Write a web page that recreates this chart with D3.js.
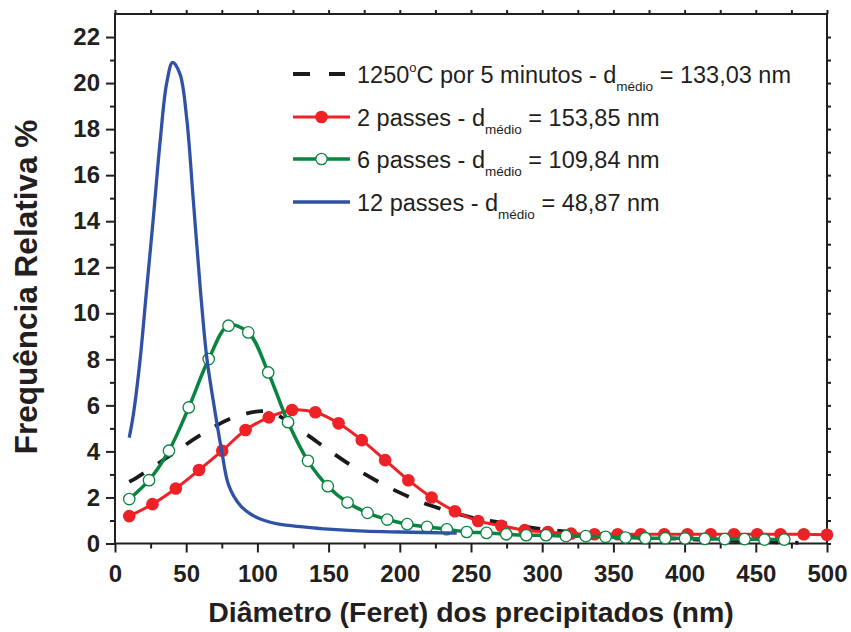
<!DOCTYPE html>
<html>
<head>
<meta charset="utf-8">
<script src="https://cdn.jsdelivr.net/npm/d3@7"></script>
<style>
  html, body { margin: 0; padding: 0; background: #fff; }
  svg { display: block; font-family: "Liberation Sans", Arial, sans-serif; }
</style>
</head>
<body>
<svg id="chart" width="851" height="632"></svg>
<script>
// Size distributions of precipitates (Feret diameter, nm) vs relative frequency (%)

// 1250 °C for 5 minutes (dashed black curve)
const heatX = [10, 14.5, 37.4, 60.9, 84.3, 108, 130.4, 152.6, 175.8, 199.2, 221.7, 250.5, 268, 291, 320, 350, 380, 410, 440, 480];
const heatY = [2.68, 2.83, 3.77, 4.74, 5.5, 5.72, 4.91, 3.94, 3.0, 2.23, 1.65, 1.13, 0.94, 0.7, 0.5, 0.35, 0.25, 0.17, 0.1, 0.03];

// 2 passes (red, filled circles)
const pass2X = [10, 26.3, 42.7, 59, 75.3, 91.7, 108, 124.3, 140.7, 157, 173.3, 189.7, 206, 222.3, 238.7, 255, 271.3, 287.7, 304, 320.3, 336.7, 353, 369.3, 385.7, 402, 418.3, 434.7, 451, 467.3, 483.7, 500];
const pass2Y = [1.19, 1.71, 2.39, 3.19, 4.03, 4.93, 5.48, 5.80, 5.70, 5.22, 4.49, 3.62, 2.75, 2.0, 1.40, 0.98, 0.77, 0.58, 0.50, 0.43, 0.40, 0.40, 0.40, 0.40, 0.40, 0.40, 0.40, 0.40, 0.40, 0.40, 0.38];

// 6 passes (green, open circles)
const pass6X = [10, 23.9, 37.9, 51.8, 65.8, 79.7, 93.6, 107.6, 121.5, 135.5, 149.4, 163.3, 177.3, 191.2, 205.2, 219.1, 233, 247, 260.9, 274.8, 288.8, 302.7, 316.7, 330.6, 344.5, 358.5, 372.4, 386.4, 400.3, 414.2, 428.2, 442.1, 456.1, 470];
const pass6Y = [1.93, 2.75, 4.03, 5.91, 8.01, 9.46, 9.17, 7.43, 5.27, 3.59, 2.49, 1.78, 1.33, 1.04, 0.84, 0.72, 0.62, 0.50, 0.46, 0.40, 0.36, 0.36, 0.32, 0.32, 0.29, 0.26, 0.23, 0.23, 0.22, 0.20, 0.19, 0.19, 0.17, 0.17];

// 12 passes (blue, plain line)
const pass12X = [10, 13, 17.6, 22, 27, 31.6, 36.3, 40.5, 45.6, 50.3, 55, 60, 64.4, 69, 74.9, 80, 88, 96, 105, 115, 132, 150, 175, 200, 240];
const pass12Y = [4.6, 5.65, 7.97, 10.9, 14.2, 17.4, 20.0, 20.9, 20.4, 18.5, 14.9, 11.0, 8.1, 6.2, 4.03, 2.5, 1.65, 1.25, 1.0, 0.84, 0.72, 0.62, 0.54, 0.5, 0.45];

// Legend entries
const legendLabels = [
  { pre: "1250", sup: "o", mid: "C por 5 minutos - d", sub: "médio", post: " = 133,03 nm" },
  { pre: "2 passes - d", sub: "médio", post: " = 153,85 nm" },
  { pre: "6 passes - d", sub: "médio", post: " = 109,84 nm" },
  { pre: "12 passes - d", sub: "médio", post: " = 48,87 nm" }
];

// Axis ticks
const xMajorTicks = [0, 50, 100, 150, 200, 250, 300, 350, 400, 450, 500];
const xMinorTicks = [25, 75, 125, 175, 225, 275, 325, 375, 425, 475];
const yMajorTicks = [0, 2, 4, 6, 8, 10, 12, 14, 16, 18, 20, 22];
const yMinorTicks = [1, 3, 5, 7, 9, 11, 13, 15, 17, 19, 21];

const C = { heat: "#1a1a1a", p2: "#ee2226", p6: "#0a8541", p12: "#2f52a4", axis: "#231f20" };

const svg = d3.select("#chart");
const plotL = 115, plotR = 827, plotT = 14, plotB = 543.5;

const x = d3.scaleLinear().domain([0, 500]).range([plotL, plotR]);
const y = d3.scaleLinear().domain([0, 23]).range([plotB, plotT]);

const line = d3.line().x(d => x(d[0])).y(d => y(d[1])).curve(d3.curveCatmullRom.alpha(0.5));
const zip = (a, b) => a.map((v, i) => [v, b[i]]);

// Axes
function styleAxis(g) {
  g.select(".domain").remove();
  g.selectAll(".tick line").attr("stroke", C.axis).attr("stroke-width", 2);
  g.selectAll(".tick text").attr("fill", "#231f20").attr("font-weight", "bold")
    .attr("font-size", 24).attr("font-family", "'Liberation Sans', Arial, sans-serif");
}

svg.append("g").attr("transform", `translate(0,${plotB})`)
  .call(d3.axisBottom(x).tickValues(xMajorTicks).tickSize(9).tickPadding(12).tickFormat(d3.format("d")))
  .call(styleAxis);
svg.append("g").attr("transform", `translate(0,${plotB})`)
  .call(d3.axisBottom(x).tickValues(xMinorTicks).tickSize(5).tickFormat(""))
  .call(styleAxis);
svg.append("g").attr("transform", `translate(${plotL},0)`)
  .call(d3.axisLeft(y).tickValues(yMajorTicks).tickSize(9).tickPadding(6).tickFormat(d3.format("d")))
  .call(styleAxis);
svg.append("g").attr("transform", `translate(${plotL},0)`)
  .call(d3.axisLeft(y).tickValues(yMinorTicks).tickSize(5).tickFormat(""))
  .call(styleAxis);
svg.append("g").attr("transform", `translate(0,${plotT})`)
  .call(d3.axisTop(x).tickValues(xMajorTicks.concat(xMinorTicks)).tickSize(4).tickFormat(""))
  .call(styleAxis);
svg.append("g").attr("transform", `translate(${plotR},0)`)
  .call(d3.axisRight(y).tickValues(yMajorTicks.concat(yMinorTicks)).tickSize(4).tickFormat(""))
  .call(styleAxis);

svg.append("rect").attr("x", plotL).attr("y", plotT).attr("width", plotR - plotL).attr("height", plotB - plotT)
  .attr("fill", "none").attr("stroke", C.axis).attr("stroke-width", 2);

// Series
const plot = svg.append("g");
plot.append("path").datum(zip(heatX, heatY)).attr("d", line)
  .attr("fill", "none").attr("stroke", C.heat).attr("stroke-width", 3.8).attr("stroke-dasharray", "17,17");

plot.append("path").datum(zip(pass2X, pass2Y)).attr("d", line)
  .attr("fill", "none").attr("stroke", C.p2).attr("stroke-width", 3);
plot.selectAll(".p2").data(zip(pass2X, pass2Y)).join("circle").attr("class", "p2")
  .attr("cx", d => x(d[0])).attr("cy", d => y(d[1])).attr("r", 6.3).attr("fill", C.p2);

plot.append("path").datum(zip(pass6X, pass6Y)).attr("d", line)
  .attr("fill", "none").attr("stroke", C.p6).attr("stroke-width", 3.5);
plot.selectAll(".p6").data(zip(pass6X, pass6Y)).join("circle").attr("class", "p6")
  .attr("cx", d => x(d[0])).attr("cy", d => y(d[1])).attr("r", 5.7)
  .attr("fill", "#fff").attr("stroke", C.p6).attr("stroke-width", 1.3);

plot.append("path").datum(zip(pass12X, pass12Y)).attr("d", line)
  .attr("fill", "none").attr("stroke", C.p12).attr("stroke-width", 3.3);

// Legend
const legendRows = [74, 117, 159, 202];
const lx0 = 293, lx1 = 350, tx = 357;
const lg = svg.append("g");
lg.append("line").attr("x1", lx0).attr("x2", lx1 - 5).attr("y1", legendRows[0]).attr("y2", legendRows[0])
  .attr("stroke", C.heat).attr("stroke-width", 3.8).attr("stroke-dasharray", "17,19");
lg.append("line").attr("x1", lx0).attr("x2", lx1).attr("y1", legendRows[1]).attr("y2", legendRows[1])
  .attr("stroke", C.p2).attr("stroke-width", 3);
lg.append("circle").attr("cx", (lx0 + lx1) / 2).attr("cy", legendRows[1]).attr("r", 6.3).attr("fill", C.p2);
lg.append("line").attr("x1", lx0).attr("x2", lx1).attr("y1", legendRows[2]).attr("y2", legendRows[2])
  .attr("stroke", C.p6).attr("stroke-width", 3.5);
lg.append("circle").attr("cx", (lx0 + lx1) / 2).attr("cy", legendRows[2]).attr("r", 5.7)
  .attr("fill", "#fff").attr("stroke", C.p6).attr("stroke-width", 1.3);
lg.append("line").attr("x1", lx0).attr("x2", lx1).attr("y1", legendRows[3]).attr("y2", legendRows[3])
  .attr("stroke", C.p12).attr("stroke-width", 3.3);

legendLabels.forEach((lab, i) => {
  const t = lg.append("text").attr("x", tx).attr("y", legendRows[i] + 9)
    .attr("font-size", 23.5).attr("fill", "#231f20");
  t.append("tspan").text(lab.pre);
  if (lab.sup) {
    t.append("tspan").attr("font-size", 13).attr("dy", -11).text(lab.sup);
    t.append("tspan").attr("dy", 11).text(lab.mid);
  }
  t.append("tspan").attr("font-size", 13.5).attr("dy", 8).text(lab.sub);
  t.append("tspan").attr("dy", -8).text(lab.post);
});

// Axis titles
svg.append("text").attr("x", 471).attr("y", 622).attr("text-anchor", "middle")
  .attr("font-size", 28.5).attr("font-weight", "bold").attr("fill", "#231f20")
  .text("Diâmetro (Feret) dos precipitados (nm)");
svg.append("text").attr("transform", "translate(37,287) rotate(-90)").attr("text-anchor", "middle")
  .attr("font-size", 31.5).attr("font-weight", "bold").attr("fill", "#231f20")
  .text("Frequência Relativa %");
</script>
</body>
</html>
